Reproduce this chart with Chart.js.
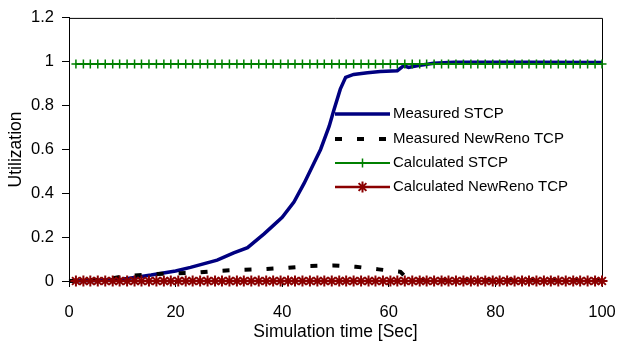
<!DOCTYPE html>
<html>
<head>
<meta charset="utf-8">
<title>Utilization vs simulation time</title>
<script src="https://cdn.jsdelivr.net/npm/chart.js@4.4.1/dist/chart.umd.min.js"></script>
<style>
  html, body { margin: 0; padding: 0; background: #fff; }
  #wrap { width: 618px; height: 343px; position: relative; }
</style>
</head>
<body>
<div id="wrap"><canvas id="chart"></canvas></div>
<script>
// --- data ---
const seriesNames = ['Measured STCP', 'Measured NewReno TCP', 'Calculated STCP', 'Calculated NewReno TCP'];

const stcpTime = [0, 5, 10, 12, 15.4, 20, 22.8, 27.8, 30.9, 33.5, 36.6, 38.4, 40, 42.2, 44.1, 45.9,
  47.2, 48.8, 49.7, 50.9, 51.9, 53.4, 56, 58.4, 61.6, 62.8, 63.7, 65.3, 68.4, 72.2, 87, 100];
const stcpUtil = [0, 0.002, 0.008, 0.015, 0.027, 0.046, 0.062, 0.095, 0.128, 0.152, 0.215, 0.255, 0.29, 0.36, 0.445, 0.535,
  0.6, 0.705, 0.78, 0.875, 0.929, 0.942, 0.95, 0.955, 0.959, 0.982, 0.974, 0.982, 0.993, 0.998, 0.998, 0.997];

const renoTime = [0, 5, 8, 10.3, 15, 19.3, 23.4, 27.8, 32.2, 36.5, 40.8, 45.1, 49.6, 53.8, 58.1, 62.2, 62.8, 63.6, 65, 100];
const renoUtil = [0, 0.005, 0.012, 0.022, 0.03, 0.035, 0.037, 0.046, 0.051, 0.054, 0.06, 0.068, 0.071, 0.065, 0.053, 0.042, 0.027, 0.008, 0.003, 0.003];

// calculated curves are flat, sampled at these times
const calcTime = [1.3, 2.7, 4.0, 5.4, 6.8, 8.2, 9.5, 10.9, 12.3, 13.6, 15.0, 16.4, 17.8, 19.1, 20.5, 21.9,
  23.2, 24.6, 26.0, 27.4, 28.7, 30.1, 31.5, 32.8, 34.2, 35.6, 37.0, 38.3, 39.7, 41.1, 42.4, 43.8, 45.2,
  46.6, 47.9, 49.3, 50.7, 52.0, 53.4, 54.8, 56.2, 57.5, 58.9, 60.3, 61.6, 63.0, 64.4, 65.8, 67.1, 68.5,
  69.9, 71.2, 72.6, 74.0, 75.4, 76.7, 78.1, 79.5, 80.8, 82.2, 83.6, 85.0, 86.3, 87.7, 89.1, 90.4, 91.8,
  93.2, 94.6, 95.9, 97.3, 98.7, 100.0];
const calcStcpUtil = 0.99;
const calcRenoUtil = 0.0;

const xTicks = [0, 20, 40, 60, 80, 100];
const yTicks = [0, 0.2, 0.4, 0.6, 0.8, 1, 1.2];

Chart.defaults.font.family = "'Liberation Sans', Arial, sans-serif";
Chart.defaults.color = '#000';

function pts(xs, ys) {
  return xs.map((x, i) => ({ x, y: Array.isArray(ys) ? ys[i] : ys }));
}

// box round the plot area (top and right edges)
const frame = {
  id: 'frame',
  beforeDatasetsDraw(chart) {
    const { ctx, chartArea: a } = chart;
    ctx.save();
    ctx.strokeStyle = '#000';
    ctx.lineWidth = 1;
    ctx.beginPath();
    ctx.moveTo(a.left, a.top + 0.5);
    ctx.lineTo(a.right + 0.5, a.top + 0.5);
    ctx.lineTo(a.right + 0.5, a.bottom);
    ctx.stroke();
    ctx.restore();
  }
};

// legend drawn inside the plot
const innerLegend = {
  id: 'innerLegend',
  afterDatasetsDraw(chart) {
    const ctx = chart.ctx;
    const x0 = 335, x1 = 390, textX = 393;
    const rows = [114, 139, 163, 187];
    ctx.save();
    ctx.font = "15px 'Liberation Sans', Arial, sans-serif";
    ctx.textBaseline = 'middle';
    chart.data.datasets.forEach((ds, i) => {
      const y = rows[i];
      ctx.save();
      ctx.strokeStyle = ds.borderColor;
      ctx.lineWidth = ds.borderWidth;
      ctx.setLineDash(ds.borderDash || []);
      ctx.beginPath();
      ctx.moveTo(x0, y);
      ctx.lineTo(x1, y);
      ctx.stroke();
      ctx.restore();
      if (ds.pointRadius > 0) {
        ctx.save();
        ctx.strokeStyle = ds.borderColor;
        ctx.fillStyle = ds.borderColor;
        ctx.lineWidth = ds.pointBorderWidth;
        Chart.helpers.drawPoint(ctx, {
          pointStyle: ds.pointStyle, radius: ds.pointRadius, borderWidth: ds.pointBorderWidth, rotation: 0
        }, (x0 + x1) / 2, y);
        ctx.restore();
      }
      ctx.fillStyle = '#000';
      ctx.fillText(ds.label, textX, y);
    });
    ctx.restore();
  }
};

new Chart(document.getElementById('chart'), {
  type: 'line',
  data: {
    datasets: [
      {
        label: seriesNames[0], data: pts(stcpTime, stcpUtil),
        borderColor: '#000080', borderWidth: 3.5, pointRadius: 0, order: 4, clip: false
      },
      {
        label: seriesNames[1], data: pts(renoTime, renoUtil),
        borderColor: '#000', borderWidth: 4, borderDash: [7, 15], pointRadius: 0, order: 3, clip: false
      },
      {
        label: seriesNames[2], data: pts(calcTime, calcStcpUtil),
        borderColor: '#008000', backgroundColor: '#008000', borderWidth: 2,
        pointStyle: 'cross', pointRadius: 4.5, pointBorderWidth: 1.5, pointBorderColor: '#008000',
        order: 2, clip: false
      },
      {
        label: seriesNames[3], data: pts(calcTime, calcRenoUtil),
        borderColor: '#8B0000', backgroundColor: '#8B0000', borderWidth: 2.5,
        pointStyle: 'star', pointRadius: 5.5, pointBorderWidth: 2, pointBorderColor: '#8B0000',
        order: 1, clip: false
      }
    ]
  },
  options: {
    responsive: true,
    maintainAspectRatio: false,
    animation: false,
    layout: { padding: { top: 15, right: 16, left: 0, bottom: 0 } },
    plugins: { legend: { display: false }, tooltip: { enabled: false } },
    scales: {
      x: {
        type: 'linear', min: 0, max: 100,
        afterBuildTicks: (s) => { s.ticks = xTicks.map(v => ({ value: v })); },
        afterFit: (s) => { s.height = 62; s.paddingLeft = 0; s.paddingRight = 0; },
        ticks: { font: { size: 16.5 }, padding: 16, maxRotation: 0 },
        grid: { drawOnChartArea: false, drawTicks: true, tickLength: 6, color: '#000' },
        border: { color: '#000', width: 1 },
        title: { display: true, text: 'Simulation time [Sec]', font: { size: 17.5 }, padding: { top: 0, bottom: 0 } }
      },
      y: {
        type: 'linear', min: 0, max: 1.2,
        afterBuildTicks: (s) => { s.ticks = yTicks.map(v => ({ value: v })); },
        afterFit: (s) => { s.width = 69; },
        ticks: { font: { size: 16.5 }, padding: 8, callback: (v) => String(v) },
        grid: { drawOnChartArea: false, drawTicks: true, tickLength: 7, color: '#000' },
        border: { color: '#000', width: 1 },
        title: { display: true, text: 'Utilization', font: { size: 17.5 }, padding: { top: 6, bottom: 0 } }
      }
    }
  },
  plugins: [frame, innerLegend]
});
</script>
</body>
</html>
